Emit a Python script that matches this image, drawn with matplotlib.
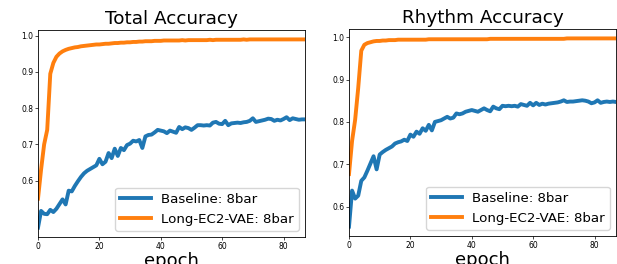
import matplotlib
matplotlib.use("Agg")
import matplotlib.pyplot as plt
import numpy as np

# per-epoch accuracies (epochs 0..87)
total_baseline = [
    0.470, 0.516, 0.508, 0.507, 0.519, 0.513, 0.522, 0.535, 0.548, 0.534,
    0.572, 0.570, 0.585, 0.598, 0.610, 0.620, 0.627, 0.632, 0.637, 0.642,
    0.660, 0.645, 0.652, 0.676, 0.662, 0.688, 0.668, 0.690, 0.684, 0.698,
    0.702, 0.710, 0.708, 0.712, 0.690, 0.722, 0.726, 0.727, 0.733, 0.740,
    0.738, 0.736, 0.731, 0.738, 0.735, 0.732, 0.748, 0.742, 0.747, 0.745,
    0.740, 0.746, 0.753, 0.753, 0.752, 0.753, 0.752, 0.760, 0.762, 0.757,
    0.756, 0.765, 0.753, 0.758, 0.759, 0.760, 0.759, 0.761, 0.762, 0.765,
    0.772, 0.762, 0.764, 0.766, 0.768, 0.771, 0.770, 0.765, 0.768, 0.766,
    0.770, 0.775, 0.767, 0.772, 0.770, 0.768, 0.769, 0.769,
]
total_ec2 = [
    0.550, 0.630, 0.700, 0.740, 0.895, 0.925, 0.942, 0.951, 0.957, 0.961,
    0.964, 0.966, 0.968, 0.969, 0.971, 0.972, 0.973, 0.974, 0.975, 0.976,
    0.976, 0.977, 0.978, 0.978, 0.979, 0.980, 0.980, 0.981, 0.981, 0.982,
    0.982, 0.983, 0.983, 0.984, 0.984, 0.985, 0.985, 0.985, 0.986, 0.986,
    0.986, 0.987, 0.987, 0.987, 0.987, 0.987, 0.987, 0.988, 0.987, 0.988,
    0.988, 0.988, 0.988, 0.988, 0.988, 0.988, 0.989, 0.988, 0.989, 0.989,
    0.989, 0.989, 0.989, 0.989, 0.989, 0.989, 0.989, 0.990, 0.989, 0.990,
    0.990, 0.990, 0.990, 0.990, 0.990, 0.990, 0.990, 0.990, 0.990, 0.990,
    0.990, 0.990, 0.990, 0.990, 0.990, 0.990, 0.990, 0.990,
]
rhythm_baseline = [
    0.553, 0.638, 0.619, 0.626, 0.661, 0.669, 0.685, 0.702, 0.719, 0.688,
    0.723, 0.729, 0.734, 0.738, 0.742, 0.749, 0.752, 0.754, 0.758, 0.755,
    0.770, 0.765, 0.777, 0.772, 0.785, 0.779, 0.793, 0.780, 0.800, 0.802,
    0.804, 0.808, 0.812, 0.808, 0.810, 0.820, 0.818, 0.820, 0.824, 0.826,
    0.828, 0.826, 0.824, 0.828, 0.832, 0.828, 0.825, 0.836, 0.832, 0.830,
    0.838, 0.837, 0.838, 0.837, 0.838, 0.836, 0.842, 0.840, 0.838, 0.845,
    0.839, 0.845, 0.840, 0.843, 0.841, 0.843, 0.844, 0.845, 0.846, 0.848,
    0.851, 0.847, 0.848, 0.848, 0.849, 0.850, 0.851, 0.850, 0.848, 0.844,
    0.846, 0.851, 0.845, 0.847, 0.848, 0.847, 0.848, 0.847,
]
rhythm_ec2 = [
    0.677, 0.755, 0.805, 0.880, 0.968, 0.982, 0.986, 0.988, 0.990, 0.991,
    0.991, 0.992, 0.992, 0.993, 0.993, 0.993, 0.994, 0.994, 0.994, 0.994,
    0.994, 0.994, 0.994, 0.994, 0.994, 0.994, 0.995, 0.995, 0.995, 0.995,
    0.995, 0.995, 0.995, 0.995, 0.995, 0.995, 0.995, 0.995, 0.995, 0.995,
    0.995, 0.995, 0.995, 0.995, 0.995, 0.995, 0.996, 0.996, 0.996, 0.996,
    0.996, 0.996, 0.996, 0.996, 0.996, 0.996, 0.996, 0.996, 0.996, 0.996,
    0.996, 0.996, 0.996, 0.996, 0.996, 0.996, 0.996, 0.996, 0.996, 0.996,
    0.996, 0.997, 0.997, 0.997, 0.997, 0.997, 0.997, 0.997, 0.997, 0.997,
    0.997, 0.997, 0.997, 0.997, 0.997, 0.997, 0.997, 0.997,
]
titles = ["Total Accuracy", "Rhythm Accuracy"]
labels = ["Baseline: 8bar", "Long-EC2-VAE: 8bar"]
yticks = [0.6, 0.7, 0.8, 0.9, 1.0]
xticks = [0, 20, 40, 60, 80]

W, H = 617, 264
fig = plt.figure(figsize=(W / 100, H / 100), dpi=100)
boxes = [(38, 30, 305, 237), (349, 29, 616, 236)]
series = [(total_baseline, total_ec2), (rhythm_baseline, rhythm_ec2)]

for (x0, y0, x1, y1), (base, ec2), title in zip(boxes, series, titles):
    ax = fig.add_axes([x0 / W, 1 - y1 / H, (x1 - x0) / W, (y1 - y0) / H])
    epochs = np.arange(len(base))
    ax.plot(epochs, base, color="#1f77b4", lw=2.8, label=labels[0])
    ax.plot(epochs, ec2, color="#ff7f0e", lw=2.8, label=labels[1])
    ax.set_xlim(0, len(base) - 1)
    ax.set_xticks(xticks)
    ax.set_yticks(yticks)
    ax.tick_params(labelsize=5.5, length=2, width=0.5, pad=1.5)
    for s in ax.spines.values():
        s.set_linewidth(0.6)
    ax.set_title(title, fontsize=13.2, pad=4)
    ax.set_xlabel("epoch", fontsize=13, labelpad=0.5)
    ax.legend(loc="lower right", fontsize=9.6, handlelength=2.3,
              borderaxespad=0.45, handletextpad=0.75)

fig.savefig("out.png", dpi=100)
